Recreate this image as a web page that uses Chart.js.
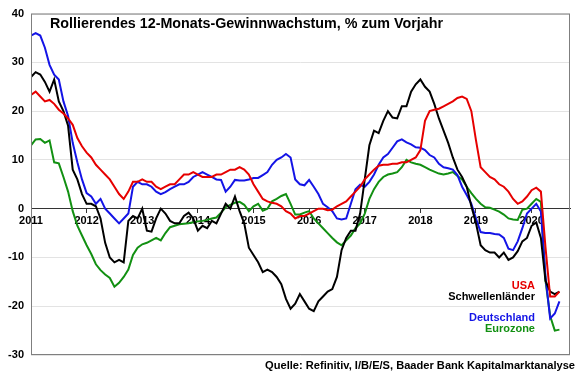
<!DOCTYPE html>
<html>
<head>
<meta charset="utf-8">
<script src="https://cdn.jsdelivr.net/npm/chart.js@4.4.1/dist/chart.umd.min.js"></script>
<style>
  body { margin: 0; background: #fff; }
  #wrap { position: relative; width: 580px; height: 375px; font-family: "Liberation Sans", Arial, sans-serif; font-weight: bold; }
  .txt { position: absolute; line-height: 1; white-space: nowrap; }
  #title { left: 50px; top: 16px; font-size: 14.3px; color: #000; }
  #source { right: 5px; top: 360px; font-size: 11.1px; color: #000; }
  .leg { right: 45px; font-size: 11px; }
</style>
</head>
<body>
<div id="wrap">
  <canvas id="chart" width="580" height="375"></canvas>
  <div class="txt" id="title">Rollierendes 12-Monats-Gewinnwachstum, % zum Vorjahr</div>
  <div class="txt leg" style="top:280px;color:#e60000">USA</div>
  <div class="txt leg" style="top:291px;color:#000">Schwellenländer</div>
  <div class="txt leg" style="top:312px;color:#1414e6">Deutschland</div>
  <div class="txt leg" style="top:323px;color:#129012">Eurozone</div>
  <div class="txt" id="source">Quelle: Refinitiv, I/B/E/S, Baader Bank Kapitalmarktanalyse</div>
</div>
<script>
// monthly values, Jan 2011 .. Jul 2020
const startYear = 2011;
const years = [2011, 2012, 2013, 2014, 2015, 2016, 2017, 2018, 2019, 2020];

const usa = [
  23.3, 24, 23, 22, 22.3, 21.5, 20.3, 19.5, 18.5, 17.2, 14.5, 12.8,
  11.5, 10.5, 9, 8, 7, 6, 4.5, 3, 2, 3.5, 5.5, 5.5,
  6, 5.5, 5.5, 4.5, 4, 4.5, 5, 5, 6, 7, 7, 7.5,
  7, 6.5, 6.5, 6.5, 7, 7, 7.5, 8, 8, 8.5, 8, 7,
  5, 3.5, 2, 1.5, 1.2, 1, 0.5, -0.5, -1, -2, -1.5, -1.5,
  -1, -0.5, 0, 0, -0.3, -0.2, 0.5, 1, 1.5, 2.5, 3.5, 4.5,
  6, 7, 8, 8.8, 9, 9, 9.2, 9.2, 9.5, 9.5, 10, 10.5,
  12, 18, 20, 20.3, 20.5, 21, 21.5, 22, 22.7, 23, 22.5, 20,
  14, 8.5, 7.5, 6.5, 6, 5, 4.5, 3.5, 2, 1, 1.5, 2.5,
  3.8, 4.3, 3.5, -8, -18, -18, -17
];

const schwellenlaender = [
  27, 28, 27.5, 26, 24, 26.5, 22, 20, 17, 8, 6, 3,
  1, 1, 0.5, -2, -7, -10, -11, -10.5, -11, -2.5, -1.5, -2,
  0, -4.5, -4.7, -2, 0, -1, -2.5, -3, -3, -1.5, -0.8, -2,
  -4.5, -3.5, -4, -2.5, -3, -1, 1, 0, 2.5, -0.5, -3, -8,
  -9.5, -11, -13, -12.5, -13, -14, -15.5, -18.5, -20.5, -19.5, -17.5, -19,
  -20.5, -21, -19, -18, -17, -16.5, -14, -8.5, -6, -4.5, -4.5, -1,
  6, 13, 16, 15.5, 18, 20, 18.7, 18.5, 21, 21, 24, 25.5,
  26.5, 25, 24, 21.5, 18.5, 16, 13.5, 10.5, 8, 6.5, 4.5, 0.5,
  -3, -7.5, -8.5, -9, -9, -10, -9, -10.5, -10, -8.7, -6.7, -6,
  -3.5, -2.8, -6, -14.8, -17, -17.5, -17
];

const deutschland = [
  35.5, 36, 35.5, 33, 29.5, 27.5, 26.5, 22, 19, 13.5, 9.5, 6,
  3.2, 2.5, 1, 2, 0, -1, -2, -3, -2, -1, 4.5, 5.5,
  5, 5, 4.5, 3.5, 3, 3.4, 4, 4.5, 5, 5, 5.5, 6.5,
  7, 7.5, 7, 6.5, 6, 5.9, 3.5, 4.5, 5.9, 5.8, 5.8, 6,
  6.3, 6.3, 6.9, 7.5, 9, 10, 10.5, 11.2, 10.5, 6, 5, 4.8,
  5.9, 4.5, 3, 1, 0.3, -0.5, -2, -2.2, -2, 1, 4, 4.9,
  4.5, 5.5, 7, 9, 10.5, 11.2, 12.5, 13.8, 14.2, 13.6, 13.2, 12.6,
  12.5, 12, 11, 10.5, 9.2, 8.5, 8.3, 8, 6.9, 4.5, 2.8, 1,
  -2, -4.8, -5, -5, -5.2, -5.3, -6, -8.2, -8.5, -6.7, -4, -1,
  0, 1, -0.6, -14, -22.5, -21.5, -19
];

const eurozone = [
  13, 14.2, 14.3, 13.5, 14, 9.5, 9.3, 6.5, 3.5, -0.5, -3.5, -5.5,
  -7.5, -9.3, -11.4, -12.6, -13.5, -14.2, -16, -15.2, -14, -12.5, -9.5, -8,
  -7.3, -7, -6.5, -6, -6.5, -5, -3.8, -3.5, -3.2, -3.1, -3, -2.8,
  -2.6, -2.5, -2.3, -2, -1.8, -0.8, 0.3, 0.8, 1.2, 1.4, 0.8, -0.5,
  0.5, 1, -0.4, 0, 1.5, 2, 2.6, 3, 1, -1.2, -1.2, -0.8,
  -0.5, -2, -3, -4, -5, -6, -6.9, -7.5, -6.5, -5.5, -4, -3,
  -1, 2, 4, 5.5, 6.5, 7, 7.2, 7.5, 8.5, 10, 9.5, 9.2,
  9, 8.5, 8, 7.6, 7.2, 7, 7.2, 7.5, 6.7, 6, 4.5, 3.2,
  2, 1, 0.3, 0.2, -0.2, -0.6, -1.2, -2, -2.2, -2.3, -0.2, 0,
  1, 2, 1.4, -14.8, -22, -25, -24.8
];

const toPoints = (values) => values.map((v, i) => ({ x: startYear + i / 12, y: v }));

const frame = {
  id: 'frame',
  afterDraw(chart) {
    const { ctx, chartArea: a } = chart;
    ctx.save();
    ctx.strokeStyle = '#7f7f7f';
    ctx.lineWidth = 1;
    ctx.strokeRect(a.left + 0.5, a.top + 0.5, a.right - a.left - 1, a.bottom - a.top - 1);
    ctx.restore();
  }
};

const tickFont = { family: '"Liberation Sans", Arial, sans-serif', size: 11, weight: 'bold' };

new Chart(document.getElementById('chart'), {
  type: 'line',
  data: {
    datasets: [
      { label: 'USA', data: toPoints(usa), borderColor: '#e60000' },
      { label: 'Schwellenländer', data: toPoints(schwellenlaender), borderColor: '#000000' },
      { label: 'Deutschland', data: toPoints(deutschland), borderColor: '#1414e6' },
      { label: 'Eurozone', data: toPoints(eurozone), borderColor: '#129012' },
    ],
  },
  options: {
    responsive: false,
    animation: false,
    layout: { padding: { left: 0, top: 10, right: 10, bottom: 20 } },
    elements: {
      point: { radius: 0 },
      line: { borderWidth: 2, tension: 0 },
    },
    plugins: {
      legend: { display: false },
      tooltip: { enabled: false },
    },
    scales: {
      x: {
        type: 'linear',
        position: { y: 0 },
        min: 2011,
        max: 2020.69,
        afterBuildTicks: (scale) => { scale.ticks = years.map(y => ({ value: y })); },
        ticks: { color: '#000', font: tickFont, padding: 2, maxRotation: 0, callback: (v) => String(v) },
        grid: { drawOnChartArea: false, drawTicks: true, tickLength: 4, color: '#333' },
        border: { display: true, color: '#333', width: 1 },
      },
      y: {
        min: -30,
        max: 40,
        afterFit: (scale) => { scale.width = 31; },
        ticks: { stepSize: 10, color: '#000', font: tickFont, padding: 7 },
        grid: { color: '#e3e3e3', drawTicks: false },
        border: { display: false },
      },
    },
  },
  plugins: [frame],
});
</script>
</body>
</html>
